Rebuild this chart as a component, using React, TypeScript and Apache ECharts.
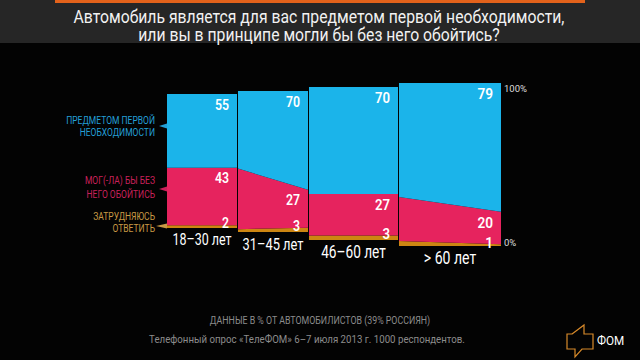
import React, { useEffect, useRef } from "react";
import * as echarts from "echarts";

// ---- data ----
const categories = ["18–30 лет", "31–45 лет", "46–60 лет", "> 60 лет"];
const necessary = [55, 70, 70, 79]; // предметом первой необходимости
const couldDo = [43, 27, 27, 20]; // мог(-ла) бы без него обойтись
const hardToSay = [2, 3, 3, 1]; // затрудняюсь ответить
const legendNames = [
  "ПРЕДМЕТОМ ПЕРВОЙ\nНЕОБХОДИМОСТИ",
  "МОГ(-ЛА) БЫ БЕЗ\nНЕГО ОБОЙТИСЬ",
  "ЗАТРУДНЯЮСЬ\nОТВЕТИТЬ",
];
const yTicks = [0, 100];
const titleLines = [
  "Автомобиль является для вас предметом первой необходимости,",
  "или вы в принципе могли бы без него обойтись?",
];
const footnotes = [
  "ДАННЫЕ В % ОТ АВТОМОБИЛИСТОВ (39% РОССИЯН)",
  "Телефонный опрос «ТелеФОМ» 6–7 июля 2013 г. 1000 респондентов.",
];

// ---- layout / style ----
const PANELS = [
  { left: 167, top: 94, width: 70, height: 134 },
  { left: 238, top: 91, width: 70, height: 141 },
  { left: 309, top: 87, width: 89, height: 153 },
  { left: 399, top: 83, width: 102, height: 163 },
];
const CAT_FONT = [16, 16.5, 17.5, 18];
const VAL_FONT = [14, 14, 15, 15.5];
const BLUE = "#1bb4ea";
const PINK = "#e6235e";
const ORANGE = "#cc8612";
const FONT = "Roboto, 'Noto Sans', sans-serif";

export default function App() {
  const ref = useRef<HTMLDivElement>(null);
  useEffect(() => {
    if (!ref.current) return;
    const chart = echarts.init(ref.current, null, { renderer: "svg" });

    const stack = (k: number) => [
      0,
      hardToSay[k],
      hardToSay[k] + couldDo[k],
      hardToSay[k] + couldDo[k] + necessary[k],
    ];

    const renderItem = (params: any, api: any) => {
      const i = api.value(0);
      const cur = stack(i);
      const prev = stack(i > 0 ? i - 1 : i);
      const colors = [ORANGE, PINK, BLUE];
      const vals = [hardToSay[i], couldDo[i], necessary[i]];
      const children: any[] = [];
      for (let s = 0; s < 3; s++) {
        children.push({
          type: "polygon",
          shape: {
            points: [
              api.coord([0, prev[s]]),
              api.coord([1, cur[s]]),
              api.coord([1, cur[s + 1]]),
              api.coord([0, prev[s + 1]]),
            ],
          },
          style: { fill: colors[s] },
        });
      }
      for (let s = 0; s < 3; s++) {
        const pt = api.coord([1, cur[s + 1]]);
        children.push({
          type: "text",
          x: pt[0] - 8,
          y: s === 0 ? pt[1] - 2 : pt[1] + 11,
          scaleX: 0.88,
          style: {
            text: String(vals[s]),
            fill: "#ffffff",
            font: `600 ${VAL_FONT[i]}px ${FONT}`,
            textAlign: "right",
            textVerticalAlign: "middle",
          },
          z2: 10,
        });
      }
      const base = api.coord([0.5, 0]);
      children.push({
        type: "text",
        x: base[0],
        y: base[1] + 12,
        scaleX: 0.78,
        style: {
          text: categories[i],
          fill: "#ffffff",
          font: `${CAT_FONT[i]}px ${FONT}`,
          textAlign: "center",
          textVerticalAlign: "middle",
        },
      });
      return { type: "group", children };
    };

    const legendColors = ["#239fd6", "#c9215a", "#c99a45"];
    const legendY = [126, 187, 222.5];
    const legendLH = [12, 14, 12];
    const pointers = [
      [[159, 126], [167, 123.5], [167, 128.5]],
      [[159, 189], [167, 186.5], [167, 191.5]],
      [[156, 226], [167, 223.5], [167, 228.5]],
    ];

    const graphic: any[] = [
      { type: "rect", shape: { x: 0, y: 0, width: 640, height: 43 }, style: { fill: "#262626" } },
      { type: "rect", shape: { x: 55, y: 0, width: 530, height: 3 }, style: { fill: "#e3621b" } },
      ...titleLines.map((t, k) => ({
        type: "text",
        x: 319,
        y: 16 + k * 18,
        scaleX: 0.83,
        style: {
          text: t,
          fill: "#f2f2f2",
          font: `19px ${FONT}`,
          textAlign: "center",
          textVerticalAlign: "middle",
        },
      })),
      ...legendNames.map((t, k) => ({
        type: "text",
        x: 155,
        y: legendY[k],
        scaleX: 0.74,
        style: {
          text: t,
          fill: legendColors[k],
          font: `11.5px ${FONT}`,
          lineHeight: legendLH[k],
          textAlign: "right",
          textVerticalAlign: "middle",
        },
      })),
      ...pointers.map((pts, k) => ({
        type: "polygon",
        shape: { points: pts },
        style: { fill: legendColors[k] },
      })),
      {
        type: "text",
        x: 320,
        y: 320,
        scaleX: 0.84,
        style: {
          text: footnotes[0],
          fill: "#8c8c8c",
          font: `10.5px ${FONT}`,
          textAlign: "center",
          textVerticalAlign: "middle",
        },
      },
      {
        type: "text",
        x: 307,
        y: 339,
        scaleX: 0.88,
        style: {
          text: footnotes[1],
          fill: "#8c8c8c",
          font: `11px ${FONT}`,
          textAlign: "center",
          textVerticalAlign: "middle",
        },
      },
      {
        type: "polygon",
        shape: {
          points: [
            [572, 334], [584, 325], [584, 334], [593, 334], [593, 349],
            [582, 349], [575, 357], [575, 349], [567, 349], [567, 334],
          ],
        },
        style: { fill: "none", stroke: "#d88a2a", lineWidth: 1.2 },
      },
      {
        type: "text",
        x: 597,
        y: 341,
        scaleX: 0.9,
        style: {
          text: "ФОМ",
          fill: "#ffffff",
          font: `13px ${FONT}`,
          textAlign: "left",
          textVerticalAlign: "middle",
        },
      },
    ];

    chart.setOption({
      animation: false,
      backgroundColor: "#030303",
      grid: PANELS.map((p) => ({ ...p })),
      xAxis: PANELS.map((_, i) => ({
        type: "value",
        gridIndex: i,
        min: 0,
        max: 1,
        show: false,
      })),
      yAxis: PANELS.map((_, i) => ({
        type: "value",
        gridIndex: i,
        min: yTicks[0],
        max: yTicks[1],
        interval: yTicks[1] - yTicks[0],
        show: i === PANELS.length - 1,
        position: "right",
        axisLine: { show: false },
        axisTick: { show: false },
        splitLine: { show: false },
        axisLabel: {
          margin: 3,
          formatter: (v: number) => (v === yTicks[1] ? `{a|${v}%}` : `{b|${v}%}`),
          rich: {
            a: { color: "#dddddd", fontSize: 9.5, fontFamily: FONT, padding: [10, 0, 0, 0] },
            b: { color: "#dddddd", fontSize: 9.5, fontFamily: FONT, padding: [0, 0, 8, 0] },
          },
        },
      })),
      series: categories.map((c, i) => ({
        type: "custom",
        name: c,
        xAxisIndex: i,
        yAxisIndex: i,
        data: [[i]],
        renderItem,
        silent: true,
      })),
      graphic,
    });
    return () => chart.dispose();
  }, []);
  return (
    <div
      ref={ref}
      style={{ position: "fixed", left: 0, top: 0, width: 640, height: 360 }}
    />
  );
}
